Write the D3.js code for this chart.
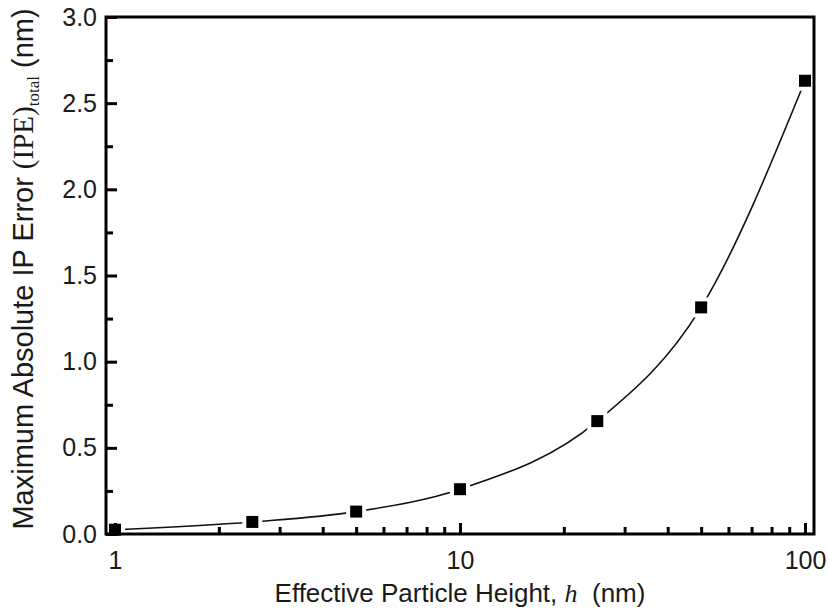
<!DOCTYPE html>
<html>
<head>
<meta charset="utf-8">
<script src="https://cdn.jsdelivr.net/npm/d3@7"></script>
<style>
  body { margin: 0; background: #fff; }
  svg { display: block; }
  .tick text { font-family: "Liberation Sans", Arial, sans-serif; font-size: 25px; fill: #1a1a1a; }
</style>
</head>
<body>
<svg id="chart" width="829" height="610"></svg>
<script>
// values
const heights = [1, 2.5, 5, 10, 25, 50, 100];
const ipeErrors = [0.025, 0.07, 0.13, 0.26, 0.655, 1.315, 2.63];
const xMajorTicks = [1, 10, 100];
const xMinorTicks = [2, 3, 4, 5, 6, 7, 8, 9, 20, 30, 40, 50, 60, 70, 80, 90];
const yMajorTicks = [0, 0.5, 1.0, 1.5, 2.0, 2.5, 3.0];
const yMinorTicks = [0.25, 0.75, 1.25, 1.75, 2.25, 2.75];

const svg = d3.select("#chart");

// frame box
const boxLeft = 106, boxRight = 814, boxTop = 17, boxBottom = 534;
const pad = 9; // log axis sits a little inside the frame

const xScale = d3.scaleLog().domain([1, 100]).range([boxLeft + pad, boxRight - pad]);
const yScale = d3.scaleLinear().domain([0, 3]).range([boxBottom, boxTop]);

const points = heights.map((h, i) => ({ h: h, v: ipeErrors[i] }));

// curve through the points
const valueLine = d3
  .line()
  .x((d) => xScale(d.h))
  .y((d) => yScale(d.v))
  .curve(d3.curveMonotoneX);

svg
  .append("path")
  .datum(points)
  .attr("d", valueLine)
  .attr("fill", "none")
  .attr("stroke", "#111")
  .attr("stroke-width", 1.6);

// white halo so the line stops short of each marker
const sz = 12;
svg
  .append("g")
  .selectAll("rect")
  .data(points)
  .join("rect")
  .attr("x", (d) => xScale(d.h) - sz / 2 - 4)
  .attr("y", (d) => yScale(d.v) - sz / 2 - 4)
  .attr("width", sz + 8)
  .attr("height", sz + 8)
  .attr("fill", "#fff");

// axes (ticks point inward)
svg
  .append("g")
  .attr("transform", `translate(0, ${boxBottom})`)
  .call(d3.axisBottom(xScale).tickValues(xMajorTicks).tickSize(-11).tickPadding(17).tickFormat(d3.format("d")))
  .call((g) => g.select(".domain").remove());

svg
  .append("g")
  .attr("transform", `translate(0, ${boxBottom})`)
  .call(d3.axisBottom(xScale).tickValues(xMinorTicks).tickSize(-7).tickFormat(""))
  .call((g) => g.select(".domain").remove());

svg
  .append("g")
  .attr("transform", `translate(${boxLeft}, 0)`)
  .call(d3.axisLeft(yScale).tickValues(yMajorTicks).tickSize(-11).tickPadding(9).tickFormat(d3.format(".1f")))
  .call((g) => g.select(".domain").remove());

svg
  .append("g")
  .attr("transform", `translate(${boxLeft}, 0)`)
  .call(d3.axisLeft(yScale).tickValues(yMinorTicks).tickSize(-7).tickFormat(""))
  .call((g) => g.select(".domain").remove());

svg.selectAll(".tick line").attr("stroke", "#000").attr("stroke-width", 3);

svg
  .append("rect")
  .attr("x", boxLeft)
  .attr("y", boxTop)
  .attr("width", boxRight - boxLeft)
  .attr("height", boxBottom - boxTop)
  .attr("fill", "none")
  .attr("stroke", "#000")
  .attr("stroke-width", 3);

// markers
svg
  .append("g")
  .selectAll("rect")
  .data(points)
  .join("rect")
  .attr("x", (d) => xScale(d.h) - sz / 2)
  .attr("y", (d) => yScale(d.v) - sz / 2)
  .attr("width", sz)
  .attr("height", sz)
  .attr("fill", "#000");

// axis titles
const xTitle = svg
  .append("text")
  .attr("x", (boxLeft + boxRight) / 2)
  .attr("y", 602)
  .attr("text-anchor", "middle")
  .style("font-family", "'Liberation Sans', Arial, sans-serif")
  .style("font-size", "26px")
  .attr("fill", "#1a1a1a");
xTitle.append("tspan").text("Effective Particle Height, ");
xTitle.append("tspan").style("font-family", "'Liberation Serif', 'Times New Roman', serif").style("font-style", "italic").text("h");
xTitle.append("tspan").text("\u00a0 (nm)");

const yTitle = svg
  .append("text")
  .attr("transform", "translate(33, 269) rotate(-90)")
  .attr("text-anchor", "middle")
  .style("font-family", "'Liberation Sans', Arial, sans-serif")
  .style("font-size", "29px")
  .attr("fill", "#1a1a1a");
yTitle.append("tspan").text("Maximum Absolute IP Error ");
yTitle.append("tspan").style("font-family", "'Liberation Serif', 'Times New Roman', serif").text("(IPE)");
yTitle.append("tspan").style("font-family", "'Liberation Serif', 'Times New Roman', serif").style("font-size", "17px").attr("dy", 6).text("total");
yTitle.append("tspan").attr("dy", -6).text(" (nm)");
</script>
</body>
</html>
